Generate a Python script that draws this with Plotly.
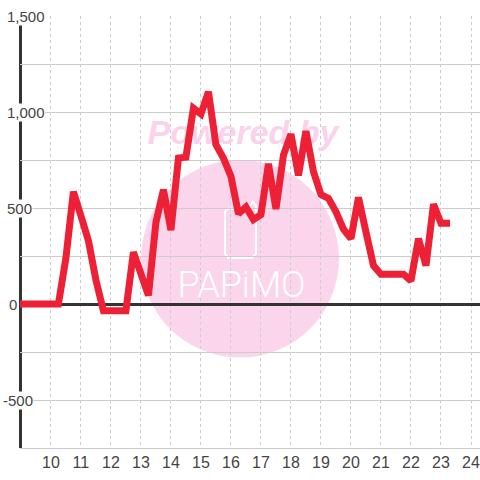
import plotly.graph_objects as go

hours = [8.87, 9.25, 9.5, 9.75, 10, 10.25, 10.5, 10.75, 11, 11.25, 11.5, 11.75, 12, 12.25, 12.5, 12.75,
         13, 13.25, 13.5, 13.75, 14, 14.25, 14.5, 14.75, 15, 15.25, 15.5, 15.75, 16, 16.25, 16.5, 16.75,
         17, 17.25, 17.5, 17.75, 18, 18.25, 18.5, 18.75, 19, 19.25, 19.5, 19.75, 20, 20.25, 20.5, 20.75,
         21, 21.25, 21.5, 21.75, 22, 22.25, 22.5, 22.75, 23, 23.3]
values = [0, 0, 0, 0, 0, 0, 240, 585, 460, 330, 125, -35, -35, -35, -35, 270,
          165, 45, 425, 595, 385, 760, 765, 1020, 990, 1105, 830, 760, 665, 470, 505, 440,
          465, 730, 495, 775, 885, 670, 900, 690, 570, 550, 480, 390, 340, 555, 375, 200,
          155, 155, 155, 155, 120, 340, 200, 520, 420, 420]
x_ticks = list(range(10, 25))
y_ticks = [1500, 1000, 500, 0, -500]
y_labels = ["1,500", "1,000", "500", "0", "-500"]
y_label_x = [6, 6, 6, 7.5, 2]
grid_vals = [-750, -500, -250, 0, 250, 500, 750, 1000, 1250, 1500]

W, H = 480, 480
L, R, T, B = 20, 0, 16, 31.5
PW, PH = W - L - R, H - T - B
TEXT = "#444444"
PINK = "#FBD5EC"

def px(v):
    return (v - L) / PW

def py(v):
    return 1 - (v - T) / PH

fig = go.Figure()
fig.add_trace(go.Scatter(x=[16.4], y=[880], mode="text", text=["<b><i>Powered by</i></b>"],
                         textfont=dict(family="Liberation Sans", size=34, color="rgba(250,208,235,0.95)"),
                         hoverinfo="skip", showlegend=False))
fig.add_trace(go.Scatter(x=[16.35], y=[83], mode="text", text=["PAPiMO"],
                         textfont=dict(family="Roboto", size=36, color="white", weight=300),
                         hoverinfo="skip", showlegend=False))
fig.add_trace(go.Scatter(x=hours, y=values, mode="lines", cliponaxis=False,
                         line=dict(color="#EE2035", width=7), hoverinfo="skip", showlegend=False))

shapes = [
    dict(type="circle", xref="paper", yref="paper", layer="below", fillcolor=PINK, line_width=0,
         x0=px(141), x1=px(339), y0=py(358), y1=py(160)),
    dict(type="path", xref="paper", yref="paper", layer="below", line=dict(color="white", width=2),
         path=f"M {px(228)} {py(209)} L {px(225)} {py(212)} L {px(225)} {py(254)} L {px(228)} {py(258)} "
              f"L {px(252)} {py(258)} L {px(256)} {py(254)} L {px(256)} {py(206)} L {px(253)} {py(202)} "
              f"L {px(250)} {py(206)} L {px(250)} {py(209)} Z"),
    dict(type="line", xref="paper", yref="paper", layer="between", line=dict(color="#333333", width=3),
         x0=px(20.5), x1=px(20.5), y0=0, y1=1),
]
annotations = [
    dict(x=px(lx), xref="paper", y=v, yref="y", text=t, showarrow=False, xanchor="left", yanchor="middle",
         font=dict(family="Liberation Sans", size=15, color=TEXT), bgcolor="white", borderpad=0)
    for v, t, lx in zip(y_ticks, y_labels, y_label_x)
]

fig.update_layout(
    width=W, height=H, autosize=False,
    margin=dict(l=L, r=R, t=T, b=B),
    paper_bgcolor="white", plot_bgcolor="white",
    shapes=shapes, annotations=annotations, showlegend=False,
    font=dict(family="Liberation Sans", size=16, color=TEXT),
    xaxis=dict(range=[8.97, 24.3], tickmode="array", tickvals=x_ticks, showgrid=True, gridcolor="#CCCCCC",
               griddash="dot", gridwidth=1, zeroline=False, showline=True, linecolor="#CCCCCC", linewidth=1,
               ticks="", tickfont=dict(family="Liberation Sans", size=16, color=TEXT)),
    yaxis=dict(range=[-750, 1500], tickmode="array", tickvals=grid_vals, ticktext=[""] * len(grid_vals),
               showgrid=True, gridcolor="#CCCCCC", gridwidth=1, zeroline=True, zerolinecolor="#333333",
               zerolinewidth=3, showline=False, ticks=""),
)
fig.write_html("out.html", config=dict(displayModeBar=False),
               post_script="document.body.style.margin='0';document.body.style.overflow='hidden';")
